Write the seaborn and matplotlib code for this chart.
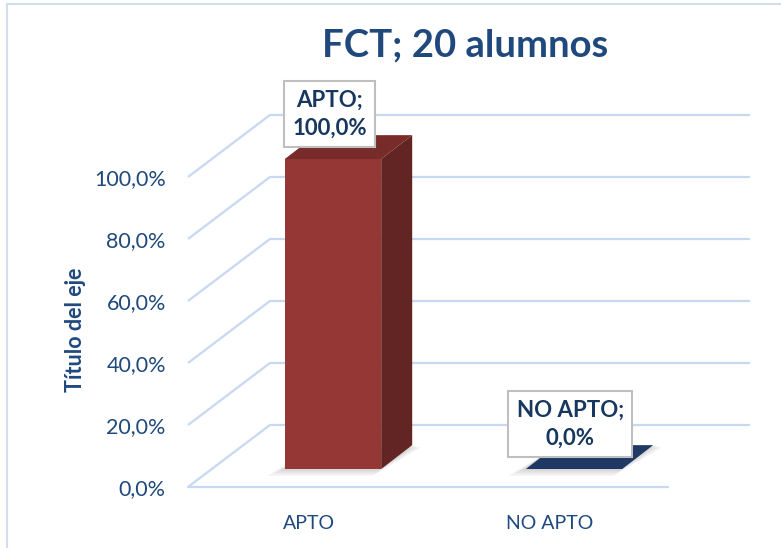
import matplotlib
matplotlib.use("Agg")
from matplotlib import pyplot as plt
from matplotlib.patches import Polygon
from matplotlib.lines import Line2D
import seaborn as sns

#%% # Data

categories = ["APTO", "NO APTO"]
percent = [100.0, 0.0]
front_colors = ["#953735", "#1F3864"]
side_colors = ["#632523", "#15264A"]
top_colors = ["#772C2A", "#1F3864"]
tick_values = [0, 20, 40, 60, 80, 100]
title = "FCT; 20 alumnos"
ylabel = "Título del eje"

#%% # Style

sns.set_theme(style="white")
plt.rcParams["font.family"] = ["Lato", "DejaVu Sans"]

navy = "#1F497D"
label_navy = "#17375E"
grid_c = "#C6D9F1"

# fake 3d box, in data units
BAR_W = 0.4
FLOOR_DX, FLOOR_DY = 0.34, 20.0    # front floor edge -> back wall
FRONT_DX, FRONT_DY = 0.0996, 5.8   # front floor edge -> bar front face
BAR_DX, BAR_DY = 0.1286, 7.7       # bar depth

fig = plt.figure(figsize=(7.81, 5.48), dpi=100)
ax = fig.add_axes([188/781, 61/548, 562/781, 372/548])
x0, x1 = -0.6017, 1.7303
ax.patch.set_alpha(0)

#%% # Bars

sns.barplot(x=categories, y=percent, hue=categories, palette=front_colors,
            saturation=1, width=BAR_W, legend=False, ax=ax, linewidth=0, zorder=3)

# seaborn resets the limits, so set them after the bars
ax.set_xlim(x0, x1)
ax.set_ylim(-FRONT_DY, 100 - FRONT_DY + FLOOR_DY)

#%% # Floor and back wall gridlines

for v in tick_values:
    yf = v - FRONT_DY
    yb = yf + FLOOR_DY
    ax.plot([x0, x0 + FLOOR_DX, x1], [yf, yb, yb], color=grid_c, lw=1.6,
            zorder=0, clip_on=False, solid_capstyle="butt")
ax.plot([x0, x1 - FLOOR_DX], [-FRONT_DY, -FRONT_DY], color=grid_c, lw=1.6,
        zorder=0, clip_on=False)

for i, v in enumerate(percent):
    left, right = i - BAR_W/2, i + BAR_W/2
    # soft shadow under the base
    for k, a in enumerate([0.10, 0.10, 0.12]):
        off = 0.012 * (3 - k)
        ax.add_patch(Polygon([(left - off*2, -off*60), (right - off, -off*60),
                              (right + BAR_DX + off, BAR_DY - off*20),
                              (left + BAR_DX, BAR_DY - off*20)],
                             closed=True, fc="#808080", ec="none", alpha=a, zorder=1))
    ax.add_patch(Polygon([(left, v), (right, v), (right + BAR_DX, v + BAR_DY),
                          (left + BAR_DX, v + BAR_DY)],
                         closed=True, fc=top_colors[i], ec="none", zorder=4))
    if v > 0:
        ax.add_patch(Polygon([(right, 0), (right, v), (right + BAR_DX, v + BAR_DY),
                              (right + BAR_DX, BAR_DY)],
                             closed=True, fc=side_colors[i], ec="none", zorder=4))
    txt = f"{categories[i]};\n{v:.1f}%".replace(".", ",")
    ax.text(i - 0.015, v + 14.5, txt, ha="center", va="center", fontsize=16,
            fontweight="bold", color=label_navy, linespacing=1.4, zorder=6,
            bbox=dict(boxstyle="square,pad=0.38", fc="white", ec="#BFBFBF", lw=1.5))

#%% # Axes text

ax.set_yticks([v - FRONT_DY for v in tick_values])
ax.set_yticklabels([f"{v:.1f}%".replace(".", ",") for v in tick_values])
ax.set_xticks([i - FRONT_DX for i in range(len(categories))])
ax.set_xticklabels(categories)
ax.tick_params(axis="y", length=0, pad=16, labelsize=15.5, labelcolor=navy)
ax.tick_params(axis="x", length=0, pad=20, labelsize=14, labelcolor=navy)
ax.set_xlabel("")
ax.set_ylabel("")
sns.despine(ax=ax, left=True, bottom=True)

fig.text(75/781, 1 - 330/548, ylabel, rotation=90, ha="center", va="center",
         fontsize=15.5, fontweight="bold", color=navy)
fig.text(465/781, 1 - 45/548, title, ha="center", va="center",
         fontsize=27.5, fontweight="bold", color=navy)

# chart frame (top and left only visible)
fig.add_artist(Line2D([7/781, 1], [1 - 4/548, 1 - 4/548], transform=fig.transFigure,
                      color="#D0DEEF", lw=1.5))
fig.add_artist(Line2D([7/781, 7/781], [0, 1 - 4/548], transform=fig.transFigure,
                      color="#D0DEEF", lw=1.5))

plt.savefig("out.png", dpi=100)
